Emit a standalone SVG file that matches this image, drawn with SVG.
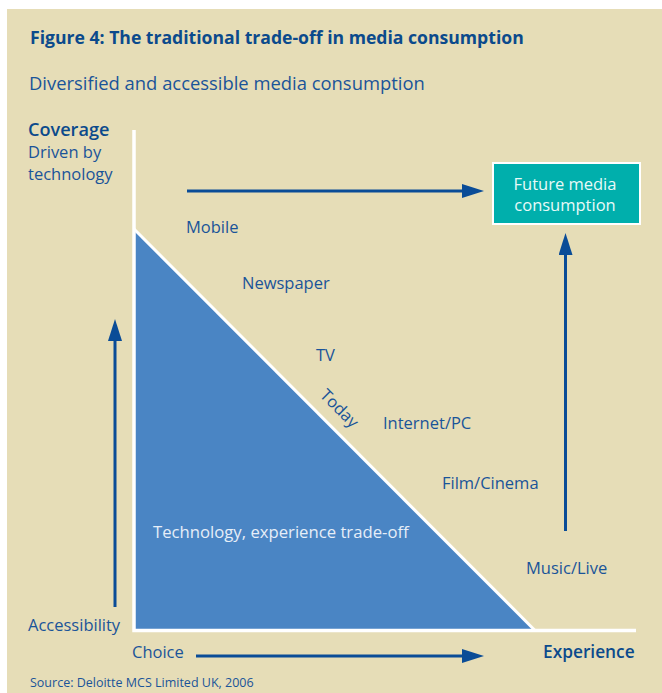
<svg xmlns="http://www.w3.org/2000/svg" width="662" height="693" viewBox="0 0 662 693">
  <style>
    .t { font-family: "Open Sans", "Noto Sans", "DejaVu Sans", sans-serif; fill: #1a5499; font-size: 16.5px; }
    .title { font-weight: bold; fill: #0b4a8c; font-size: 17.6px; }
    .subtitle { font-size: 18.4px; }
    .axis-label { font-weight: 600; fill: #0b4a8c; font-size: 18.1px; }
    .inner { fill: #e6eef8; font-size: 16.7px; }
    .boxtext { fill: #e8faf8; }
    .src { font-size: 12.5px; }
    .axis { stroke: #ffffff; stroke-width: 3.5; fill: none; }
    .arrow { stroke: #0a4c97; stroke-width: 3; fill: none; marker-end: url(#head); }
  </style>
  <defs>
    <marker id="head" markerUnits="userSpaceOnUse" markerWidth="22" markerHeight="14" refX="1" refY="7" orient="auto">
      <path d="M0,0 L22,7 L0,14 z" fill="#0a4c97"/>
    </marker>
  </defs>

  <!-- panel background -->
  <rect x="0" y="0" width="662" height="693" fill="#ffffff"/>
  <rect x="7" y="9" width="655" height="684" fill="#e6ddb7"/>

  <!-- headings -->
  <text class="t title" x="30" y="44">Figure 4: The traditional trade-off in media consumption</text>
  <text class="t subtitle" x="29" y="90">Diversified and accessible media consumption</text>

  <!-- trade-off triangle and axes -->
  <g id="tradeoff-area">
    <polygon points="135,230 135,630 534,630" fill="#4a85c4"/>
    <line x1="134" y1="229" x2="535" y2="630.5" stroke="#ffffff" stroke-width="3"/>
    <polyline class="axis" points="134,130 134,630.5 636,630.5"/>
    <text class="t inner" x="153" y="538">Technology, experience trade-off</text>
    <text class="t" x="319" y="396" transform="rotate(45 319 396)">Today</text>
  </g>

  <!-- axis labels -->
  <g id="y-axis-label">
    <text class="t axis-label" x="28" y="136">Coverage</text>
    <text class="t" x="28" y="158">Driven by</text>
    <text class="t" x="28" y="180">technology</text>
    <text class="t" x="28" y="631">Accessibility</text>
  </g>
  <g id="x-axis-label">
    <text class="t" x="132" y="658">Choice</text>
    <text class="t axis-label" x="543" y="658" style="font-size:17.3px">Experience</text>
  </g>

  <!-- media types -->
  <g id="media-mobile"><text class="t" x="186" y="233">Mobile</text></g>
  <g id="media-newspaper"><text class="t" x="242" y="289">Newspaper</text></g>
  <g id="media-tv"><text class="t" x="316" y="361">TV</text></g>
  <g id="media-internet"><text class="t" x="383" y="429">Internet/PC</text></g>
  <g id="media-film"><text class="t" x="442" y="489">Film/Cinema</text></g>
  <g id="media-music"><text class="t" x="526" y="574">Music/Live</text></g>

  <!-- target box -->
  <g id="future-media">
    <rect x="493" y="163" width="147" height="61" fill="#00afac" stroke="#ffffff" stroke-width="2"/>
    <text class="t boxtext" x="565" y="189.5" text-anchor="middle">Future media</text>
    <text class="t boxtext" x="565" y="210.5" text-anchor="middle">consumption</text>
  </g>

  <!-- arrows -->
  <g id="connectors">
    <line class="arrow" x1="187" y1="191" x2="463" y2="191"/>
    <line class="arrow" x1="196" y1="656" x2="463" y2="656"/>
    <line class="arrow" x1="115" y1="607" x2="115" y2="340"/>
    <line class="arrow" x1="565.5" y1="531" x2="565.5" y2="254"/>
  </g>

  <text class="t src" x="30" y="687">Source: Deloitte MCS Limited UK, 2006</text>
</svg>
